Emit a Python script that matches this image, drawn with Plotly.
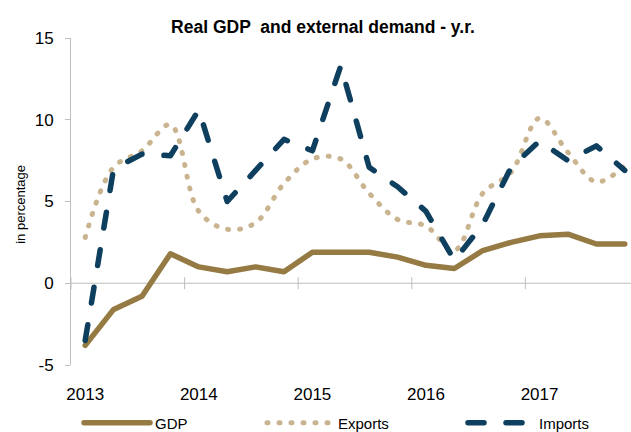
import plotly.graph_objects as go

# ---- data (quarterly, 2013Q1 .. 2017Q4) ----
quarters = list(range(20))
year_labels = ["2013", "2014", "2015", "2016", "2017"]
year_positions = [0, 4, 8, 12, 16]
year_boundaries = [-0.5, 3.5, 7.5, 11.5, 15.5]
y_ticks = [-5, 0, 5, 10, 15]
y_tick_labels = ["-5", "0", "5", "10", "15"]

gdp = [-3.8, -1.6, -0.8, 1.8, 1.0, 0.7, 1.0, 0.7, 1.9, 1.9,
       1.9, 1.6, 1.1, 0.9, 2.0, 2.5, 2.9, 3.0, 2.4, 2.4]
exports = [2.8, 7.1, 8.1, 9.7, 4.4, 3.3, 3.7, 6.1, 7.6, 7.6,
           5.5, 3.9, 3.5, 2.0, 5.5, 6.8, 10.1, 8.0, 6.2, 7.2]
imports = [-3.5, 7.0, 7.9, 7.8, 10.6, 5.0, 6.9, 8.8, 8.1, 13.3,
           7.1, 5.9, 4.4, 1.4, 3.6, 7.1, 8.7, 7.5, 8.4, 6.9]

GDP_C = "#957A43"
EXP_C = "#C9B48F"
IMP_C = "#0F3F5E"
AXIS_C = "#BFBFBF"
FONT = "Arial, Liberation Sans, sans-serif"

W, H = 631, 432
L, R, T, B = 71, 0, 38, 67
XR = [-0.5, 19.22]

fig = go.Figure()
fig.add_trace(go.Scatter(x=quarters, y=gdp, name="GDP", mode="lines",
                         line=dict(color=GDP_C, width=5.5), legend="legend",
                         showlegend=True))
fig.add_trace(go.Scatter(x=quarters, y=exports, name="Exports", mode="lines",
                         line=dict(color=EXP_C, width=5, dash="1px,11px",
                                   shape="spline", smoothing=1.0),
                         legend="legend2", showlegend=True))
fig.add_trace(go.Scatter(x=quarters, y=imports, name="Imports", mode="lines",
                         line=dict(color=IMP_C, width=5.5, dash="16px,22px"),
                         legend="legend3", showlegend=True))

def paper_x(px):
    return (px - L) / (W - L - R)

leg_common = dict(orientation="h", yanchor="middle", xanchor="left",
                  xref="container", yref="container",
                  font=dict(family=FONT, size=15, color="#000000"),
                  bgcolor="rgba(0,0,0,0)", itemwidth=66, tracegroupgap=0)

shapes = [dict(type="line", xref="paper", yref="y", x0=0, x1=1, y0=0, y1=0,
               line=dict(color=AXIS_C, width=1), layer="below")]
for b in year_boundaries:
    shapes.append(dict(type="line", xref="x", yref="y", x0=b, x1=b,
                       ysizemode="pixel", yanchor=0, y0=-6, y1=6,
                       line=dict(color=AXIS_C, width=1), layer="below"))

fig.update_layout(
    width=W, height=H,
    showlegend=True,
    margin=dict(l=L, r=R, t=T, b=B, autoexpand=False),
    paper_bgcolor="white", plot_bgcolor="white",
    font=dict(family=FONT, color="#000000"),
    title=dict(text="<b>Real GDP  and external demand - y.r.</b>",
               x=323 / W, xref="container", xanchor="center",
               y=1 - 27 / H, yref="container", yanchor="middle",
               font=dict(family=FONT, size=17.5, color="#000000")),
    xaxis=dict(range=XR, tickvals=year_positions, ticktext=year_labels,
               ticks="", showline=False, showgrid=False, zeroline=False,
               ticklabelstandoff=17, automargin=False,
               tickfont=dict(family=FONT, size=17, color="#000000")),
    yaxis=dict(range=[-5, 15], tickvals=y_ticks, ticktext=y_tick_labels,
               showline=True, linecolor=AXIS_C, linewidth=1,
               ticks="outside", ticklen=5, tickcolor=AXIS_C,
               showgrid=False, zeroline=False, ticklabelstandoff=8,
               automargin=False,
               tickfont=dict(family=FONT, size=17, color="#000000")),
    legend=dict(x=79 / W, y=1 - 423 / H, **leg_common),
    legend2=dict(x=262 / W, y=1 - 423 / H, **leg_common),
    legend3=dict(x=463 / W, y=1 - 423 / H, **leg_common),
    shapes=shapes,
    annotations=[dict(text="in percentage", textangle=-90,
                      xref="paper", yref="paper",
                      x=paper_x(21), y=0.49,
                      xanchor="center", yanchor="middle", showarrow=False,
                      font=dict(family=FONT, size=13, color="#000000"))],
)

post = """
var s = document.createElement('style');
s.innerHTML = 'html, body { margin: 0 !important; padding: 0 !important; overflow: hidden; } .js-line, .legendlines path { stroke-linecap: round !important; stroke-linejoin: round !important; }';
document.head.appendChild(s);
"""
fig.write_html("out.html", post_script=post,
               config={"displayModeBar": False, "staticPlot": True})
